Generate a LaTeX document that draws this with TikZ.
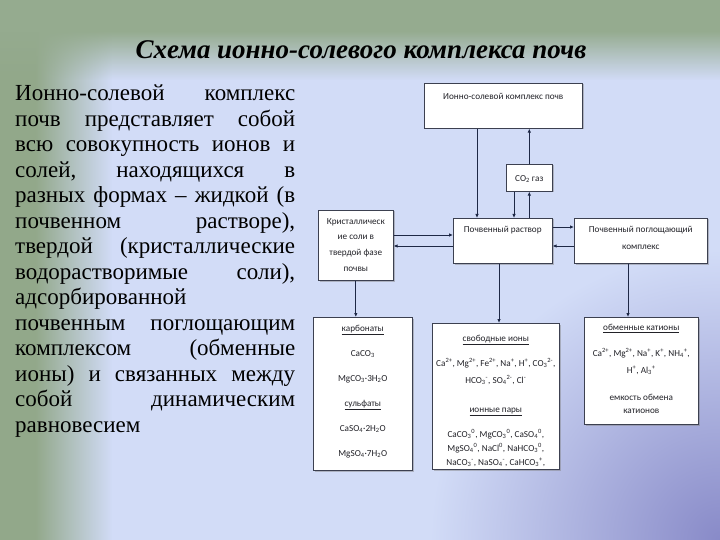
\documentclass[tikz,border=0pt]{standalone}
\usepackage{fontspec}
\setmainfont{Liberation Serif}
\newfontfamily\boxfont{Carlito}
\usetikzlibrary{arrows.meta,shadows,fadings}
\definecolor{bgblue}{RGB}{210,220,247}
\definecolor{topgreen}{RGB}{149,171,143}
\definecolor{leftgreen}{RGB}{146,168,138}
\definecolor{cornerpurple}{RGB}{136,138,200}
\definecolor{boxline}{RGB}{60,64,80}
\definecolor{boxtextcolor}{RGB}{34,34,40}
\definecolor{arrowline}{RGB}{30,40,70}
\newcommand{\chlo}[1]{\textsubscript{#1}}
\newcommand{\chhi}[1]{\textsuperscript{#1}}
% width, height, first baseline, text
\newcommand{\boxcontent}[4]{\parbox[t][#2pt][t]{#1pt}{\centering\rule{0pt}{#3pt}#4}}
% one justified line of the intro text (gaps marked with \gap)
\newcommand{\jline}[1]{\leavevmode\hbox to 280pt{#1}}
\newcommand{\gap}{\hspace{0pt plus 1fill}}
\tikzset{
titletext/.style={
  font=\fontsize{27}{30}\selectfont\bfseries\itshape,
  text=black
},
bodytext/.style={
  font=\fontsize{23}{25.5}\selectfont,
  text=black,
  text width=280pt,
  align=left,
  inner sep=0pt,
  anchor=north west
},
boxtext/.style={
  font=\boxfont\fontsize{9.2}{13}\selectfont,
  text=boxtextcolor
},
diagbox/.style={
  draw=boxline,
  line width=0.6pt,
  fill=white,
  inner sep=0pt,
  anchor=north west,
  drop shadow={shadow xshift=1.2pt, shadow yshift=-1.2pt, opacity=0.45},
  boxtext
},
arrow/.style={
  -{Latex[length=4pt,width=3.5pt]},
  line width=0.8pt,
  draw=arrowline
}
}
\begin{document}
\begin{tikzpicture}[x=1pt,y=-1pt]
\useasboundingbox (0,0) rectangle (720,540);
% background
\fill[bgblue] (0,0) rectangle (720,540);
\begin{scope}
  \clip (0,0) rectangle (720,540);
  \shade[inner color=cornerpurple, outer color=bgblue] (720,540) circle [radius=290pt];
\end{scope}
\fill[leftgreen] (0,0) rectangle (36,540);
\fill[leftgreen, path fading=east] (35,0) rectangle (112,540);
\fill[topgreen] (0,0) rectangle (720,32);
\fill[topgreen, path fading=south] (0,31) rectangle (720,80);

% title and text
\node[titletext, anchor=base] (title) at (361,59) {Схема ионно-солевого комплекса почв};
\node[bodytext] (intro) at (15,79.7) {\rule{0pt}{21pt}\jline{Ионно-солевой \gap комплекс}\\
\jline{почв \gap представляет \gap собой}\\
\jline{всю \gap совокупность \gap ионов \gap и}\\
\jline{солей, \gap находящихся \gap в}\\
\jline{разных \gap формах \gap – \gap жидкой \gap (в}\\
\jline{почвенном \gap растворе),}\\
\jline{твердой \gap (кристаллические}\\
\jline{водорастворимые \gap соли),}\\
адсорбированной\\
\jline{почвенным \gap поглощающим}\\
\jline{комплексом \gap (обменные}\\
\jline{ионы) \gap и \gap связанных \gap между}\\
\jline{собой \gap динамическим}\\
равновесием};

% boxes
\node[diagbox] (top) at (424,83) {\boxcontent{158}{45}{16}{Ионно-солевой комплекс почв}};
\node[diagbox] (co2) at (506,164) {\boxcontent{46}{27}{17}{CO\chlo{2} газ}};
\node[diagbox] (crys) at (318,210) {\boxcontent{75}{70}{14}{Кристаллическ\\[2pt]ие соли в\\[3pt]твердой фазе\\[3pt]почвы}};
\node[diagbox] (sol) at (453,218) {\boxcontent{99}{45}{14}{Почвенный раствор}};
\node[diagbox] (ppk) at (574,218) {\boxcontent{133}{45}{14}{Почвенный поглощающий\\[4pt]комплекс}};
\node[diagbox] (carb) at (313,317) {\boxcontent{99}{153}{14}{\underline{карбонаты}\\[12pt]
  CaCO\chlo{3}\\[12pt]
  MgCO\chlo{3}·3H\chlo{2}O\\[12pt]
  \underline{сульфаты}\\[12pt]
  CaSO\chlo{4}·2H\chlo{2}O\\[12pt]
  MgSO\chlo{4}·7H\chlo{2}O}};
\node[diagbox] (ions) at (432,323) {\boxcontent{127}{146}{18}{\underline{свободные ионы}\\[12pt]
  Ca\chhi{2+}, Mg\chhi{2+}, Fe\chhi{2+}, Na\chhi{+}, H\chhi{+}, CO\chlo{3}\chhi{2-},\\[4pt]
  HCO\chlo{3}\chhi{-}, SO\chlo{4}\chhi{2-}, Cl\chhi{-}\\[16pt]
  \underline{ионные пары}\\[12pt]
  CaCO\chlo{3}\chhi{0}, MgCO\chlo{3}\chhi{0}, CaSO\chlo{4}\chhi{0},\\[1pt]
  MgSO\chlo{4}\chhi{0}, NaCl\chhi{0}, NaHCO\chlo{3}\chhi{0},\\[1pt]
  NaCO\chlo{3}\chhi{-}, NaSO\chlo{4}\chhi{-}, CaHCO\chlo{3}\chhi{+},}};
\node[diagbox] (exch) at (584,317) {\boxcontent{114}{107}{13}{\underline{обменные катионы}\\[13pt]
  Ca\chhi{2+}, Mg\chhi{2+}, Na\chhi{+}, K\chhi{+}, NH\chlo{4}\chhi{+},\\[4pt]
  H\chhi{+}, Al\chlo{3}\chhi{+}\\[14pt]
  емкость обмена\\[0pt]
  катионов}};

% connectors
\draw[arrow] ([xshift=53pt]top.south west) coordinate (p1) -- (p1 |- sol.north);
\draw[arrow] (co2.north) -- (co2.north |- top.south);
\draw[arrow] (co2.south |- sol.north) -- (co2.south);
\draw[arrow] ([xshift=8pt]co2.south west) coordinate (p2) -- (p2 |- sol.north);
\draw[arrow] ([yshift=-25pt]crys.north east) coordinate (p3) -- (p3 -| sol.west);
\draw[arrow] ([yshift=-28pt]sol.north west) coordinate (p4) -- (p4 -| crys.east);
\draw[arrow] ([yshift=-9pt]sol.north east) coordinate (p5) -- (p5 -| ppk.west);
\draw[arrow] ([yshift=-28pt]ppk.north west) coordinate (p6) -- (p6 -| sol.east);
\draw[arrow] (crys.south) -- (crys.south |- carb.north);
\draw[arrow] ([xshift=46pt]sol.south west) coordinate (p7) -- (p7 |- ions.north);
\draw[arrow] ([xshift=54pt]ppk.south west) coordinate (p8) -- (p8 |- exch.north);
\end{tikzpicture}
\end{document}
